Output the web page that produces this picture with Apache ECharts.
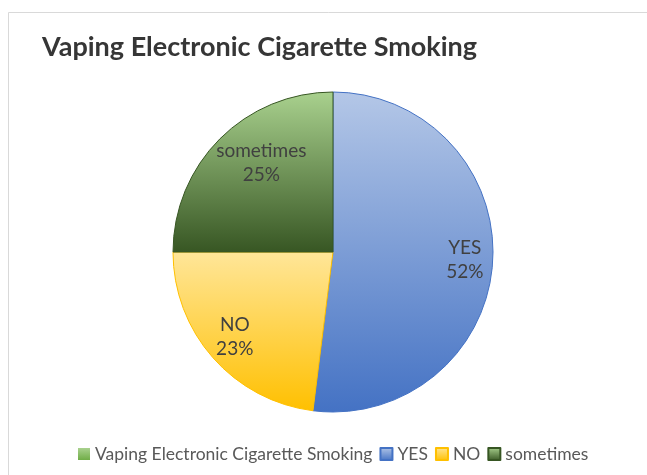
<!DOCTYPE html>
<html>
<head>
<meta charset="utf-8">
<script src="https://cdn.jsdelivr.net/npm/echarts@6/dist/echarts.min.js"></script>
<style>
html,body{margin:0;padding:0;background:#fff;}
#chart{width:647px;height:475px;}
</style>
</head>
<body>
<div id="chart"></div>
<script>
const titleText = 'Vaping Electronic Cigarette Smoking';
const categories = ['Vaping Electronic Cigarette Smoking', 'YES', 'NO', 'sometimes'];
const values = [0, 52, 23, 25];
const topColors = ['#A9D18E', '#B4C7E7', '#FFE699', '#A9D18E'];
const bottomColors = ['#70AD47', '#4472C4', '#FFC000', '#375623'];
const borderColors = ['#70AD47', '#4472C4', '#FFC000', '#375623'];
const labelOffsets = [[0,0],[49,3],[-36,30],[-13,-30]];

function grad(a, b) {
  return new echarts.graphic.LinearGradient(0, 0, 0, 1, [
    {offset: 0, color: a}, {offset: 1, color: b}
  ]);
}

const data = categories.map((c, i) => ({
  name: c,
  value: values[i],
  itemStyle: {
    color: grad(topColors[i], bottomColors[i]),
    borderColor: borderColors[i],
    borderWidth: values[i] === 0 ? 0 : 1
  },
  label: values[i] === 0 ? {show: false} : {offset: labelOffsets[i]}
}));

const chart = echarts.init(document.getElementById('chart'), null, {renderer: 'canvas'});
chart.setOption({
  animation: false,
  backgroundColor: '#ffffff',
  title: {
    text: titleText,
    left: 37,
    top: 29,
    textStyle: {fontFamily: 'Lato', fontWeight: 'bold', fontSize: 27, color: '#363636'}
  },
  graphic: [{
    type: 'rect',
    shape: {x: 8.5, y: 12.5, width: 700, height: 500},
    style: {fill: 'none', stroke: '#d9d9d9', lineWidth: 1},
    silent: true,
    z: -1
  }],
  legend: {
    data: categories,
    top: 440,
    left: 73,
    itemWidth: 12,
    itemHeight: 12,
    itemGap: 7,
    icon: 'rect',
    textStyle: {fontFamily: 'Lato', fontSize: 17.5, color: '#595959'}
  },
  series: [{
    type: 'pie',
    center: [333, 252],
    radius: [0, 160],
    startAngle: 90,
    clockwise: true,
    avoidLabelOverlap: false,
    label: {
      show: true,
      position: 'inside',
      formatter: '{b}\n{d}%',
      fontFamily: 'Lato',
      fontSize: 19,
      lineHeight: 24,
      color: '#404040'
    },
    labelLine: {show: false},
    emphasis: {disabled: true},
    data: data
  }]
});
</script>
</body>
</html>
